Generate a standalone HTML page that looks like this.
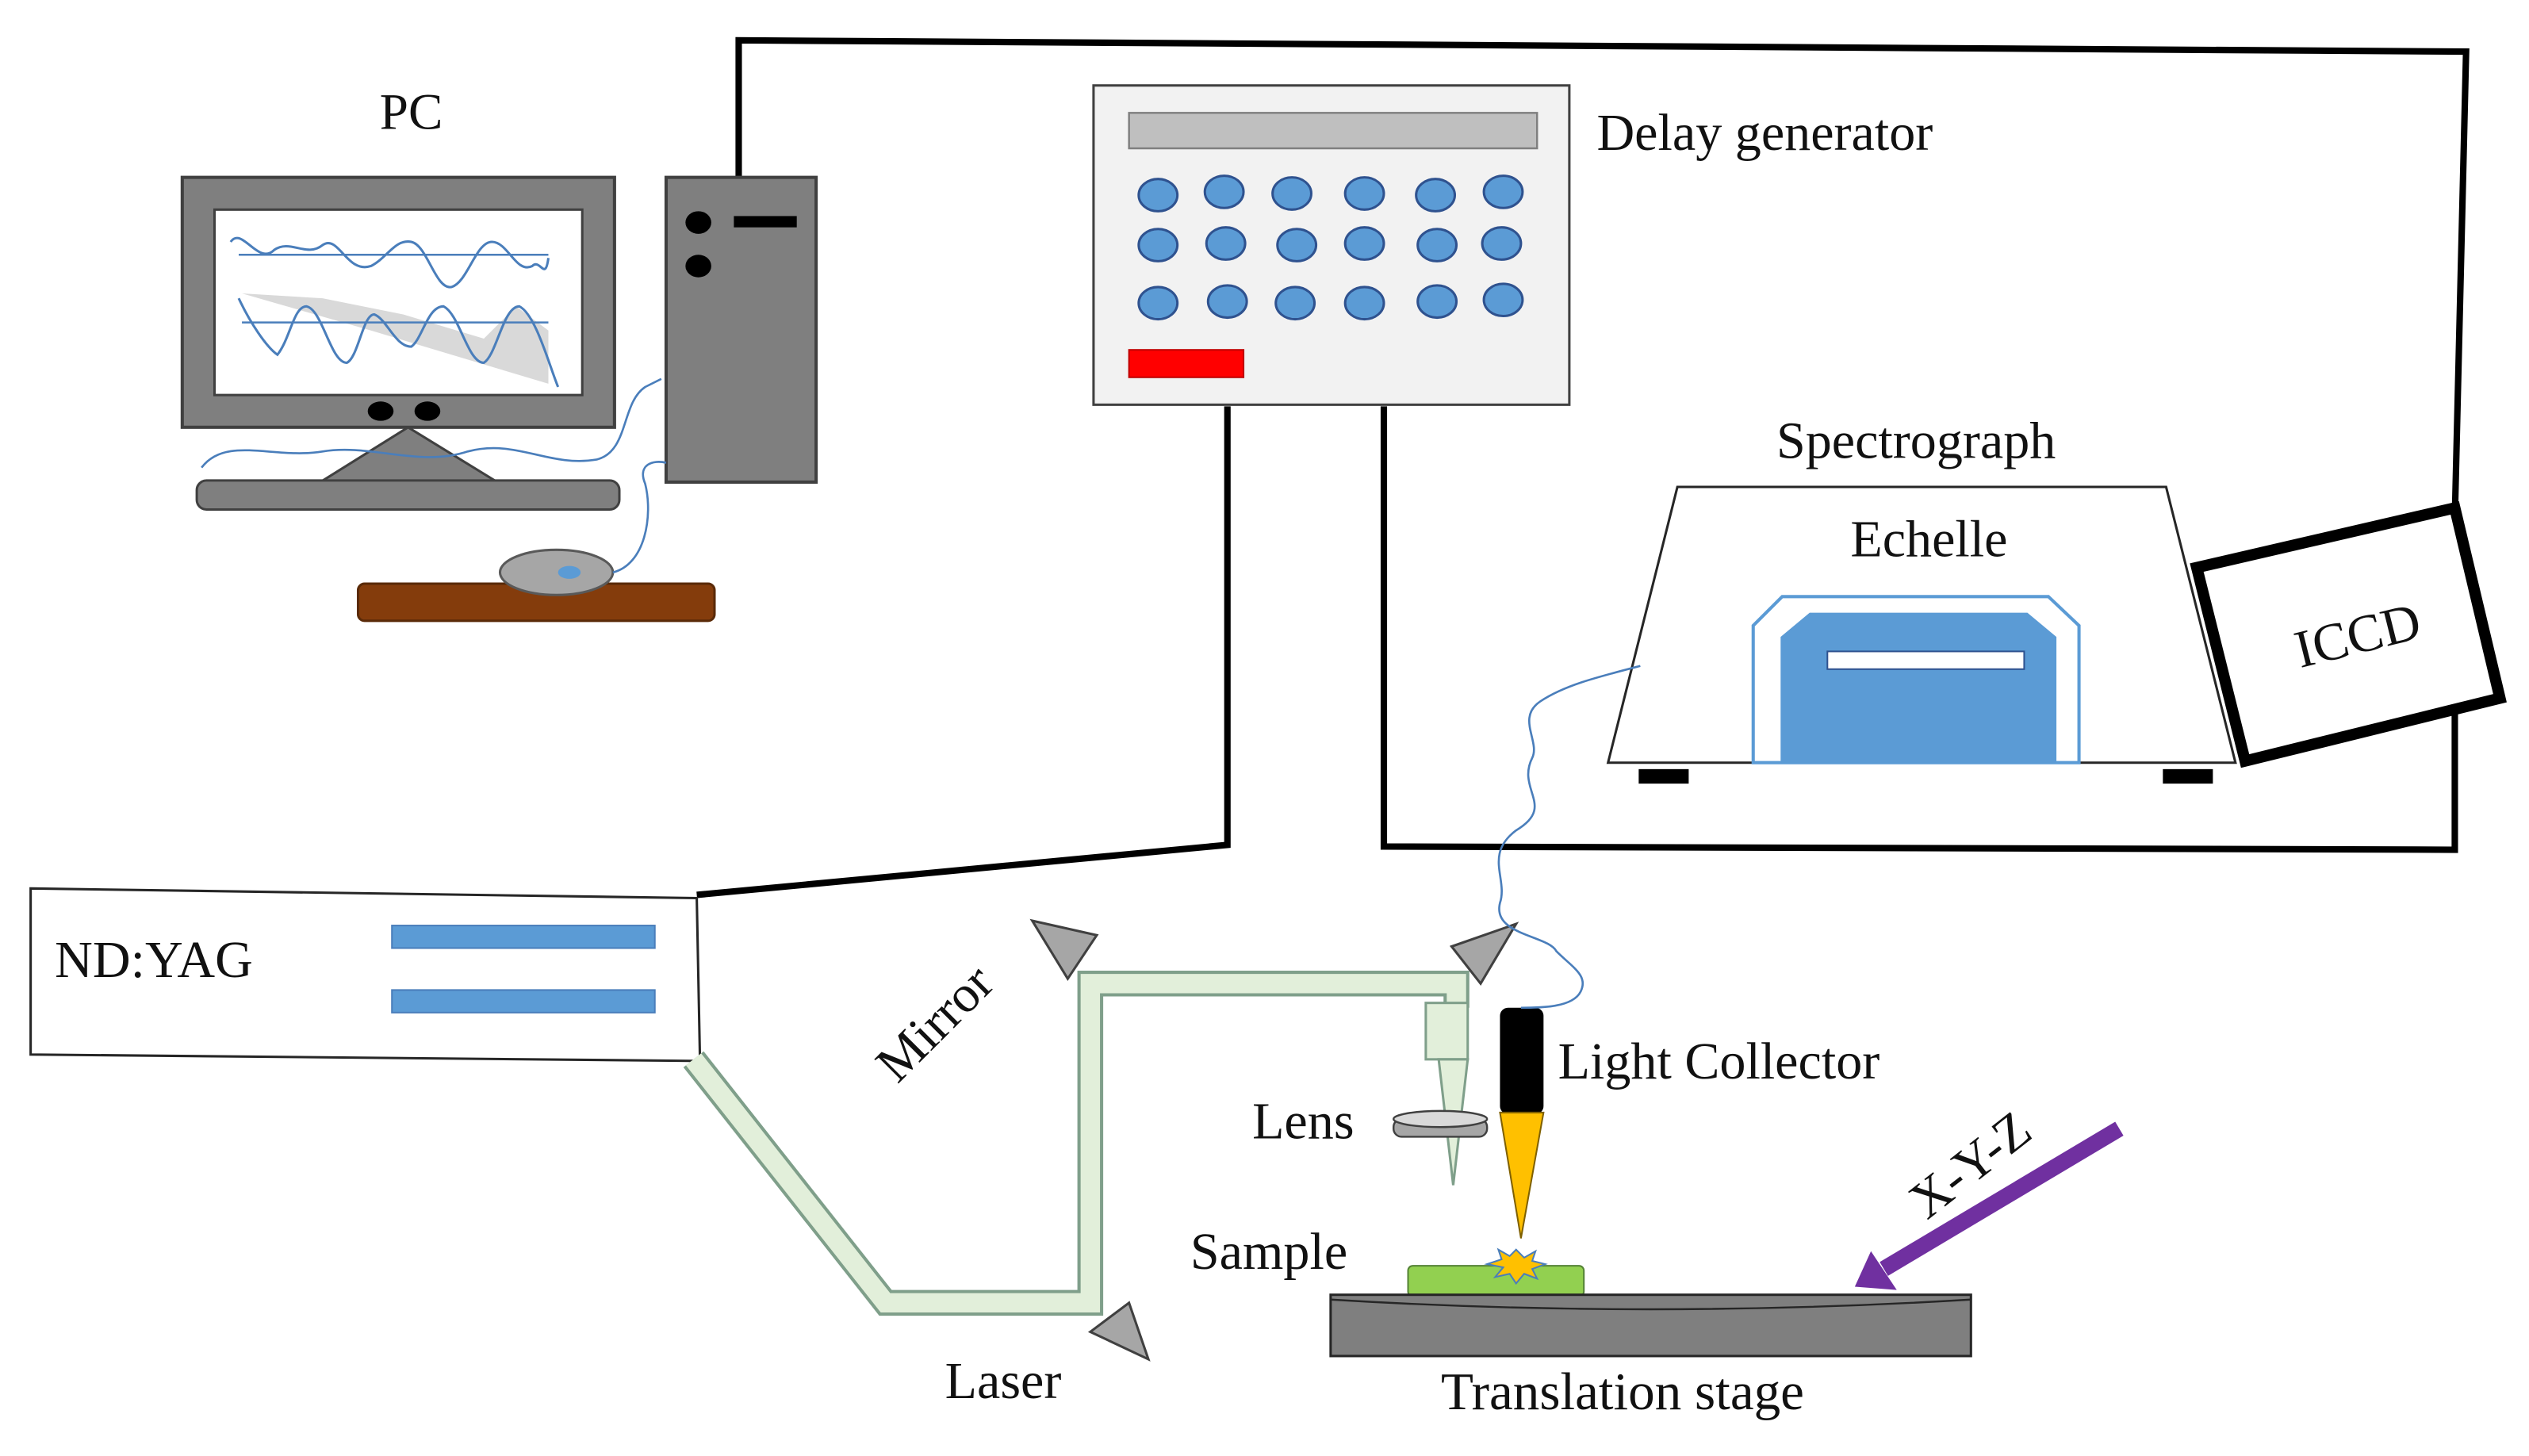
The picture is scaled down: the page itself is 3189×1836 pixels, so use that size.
<!DOCTYPE html>
<html><head><meta charset="utf-8"><style>
html,body{margin:0;padding:0;background:#fff;}
svg{display:block;}
text{font-family:"Liberation Serif",serif;fill:#111;}
</style></head><body>
<svg width="3189" height="1836" viewBox="0 0 1568 903" preserveAspectRatio="none" xmlns="http://www.w3.org/2000/svg">
<rect width="1568" height="903" fill="#fff"/>
<g fill="none" stroke="#000" stroke-width="4">
<polyline points="458,110 458,25 1529,32 1522,322"/>
<polyline points="1522,440 1522,527 858,525 858,252"/>
<polyline points="761,252 761,524 432,555"/>
</g>
<text x="255" y="80" font-size="32" text-anchor="middle">PC</text>
<rect x="113" y="110" width="268" height="155" fill="#7f7f7f" stroke="#404040" stroke-width="2"/>
<rect x="133" y="130" width="228" height="115" fill="#fff" stroke="#404040" stroke-width="1.5"/>
<polygon points="150,182 230,205 340,238 340,205 320,190 300,210 250,195 200,185" fill="#d9d9d9"/>
<path d="M143,150 C150,140 160,165 170,155 C180,148 190,160 200,152 C210,145 215,170 230,165 C240,160 245,148 255,150 C265,152 270,180 280,178 C290,175 295,150 305,150 C315,150 320,170 330,165 C335,160 338,175 340,160" fill="none" stroke="#4a7ebb" stroke-width="1.5"/>
<line x1="148" y1="158" x2="340" y2="158" stroke="#4a7ebb" stroke-width="1.2"/>
<path d="M148,185 C155,200 165,215 172,220 C180,210 182,190 190,190 C200,192 205,225 215,225 C222,222 225,195 232,195 C240,198 245,215 255,215 C262,210 265,190 275,190 C285,195 290,225 300,225 C308,220 312,190 322,190 C332,195 340,225 346,240" fill="none" stroke="#4a7ebb" stroke-width="1.5"/>
<line x1="150" y1="200" x2="340" y2="200" stroke="#4a7ebb" stroke-width="1.2"/>
<ellipse cx="236" cy="255" rx="8" ry="6" fill="#000"/>
<ellipse cx="265" cy="255" rx="8" ry="6" fill="#000"/>
<polygon points="197,300 253,265 310,300" fill="#7f7f7f" stroke="#404040" stroke-width="1.5"/>
<rect x="122" y="298" width="262" height="18" rx="6" fill="#7f7f7f" stroke="#404040" stroke-width="1.5"/>
<rect x="413" y="110" width="93" height="189" fill="#7f7f7f" stroke="#404040" stroke-width="2"/>
<ellipse cx="433" cy="138" rx="8" ry="7" fill="#000"/>
<ellipse cx="433" cy="165" rx="8" ry="7" fill="#000"/>
<rect x="455" y="134" width="39" height="7" fill="#000"/>
<rect x="222" y="362" width="221" height="23" rx="4" fill="#843c0c" stroke="#5a2a08" stroke-width="1.5"/>
<ellipse cx="345" cy="355" rx="35" ry="14" fill="#a6a6a6" stroke="#595959" stroke-width="1.5"/>
<ellipse cx="353" cy="355" rx="7" ry="4" fill="#5b9bd5"/>
<g fill="none" stroke="#4a7ebb" stroke-width="1.3">
<path d="M125,290 C140,270 170,285 200,280 C230,275 260,290 290,280 C320,272 340,290 370,285 C390,280 385,250 400,240 L410,235"/>
<path d="M380,355 C400,350 405,320 400,300 C395,288 405,285 413,287"/>
</g>
<rect x="678" y="53" width="295" height="198" fill="#f2f2f2" stroke="#404040" stroke-width="1.5"/>
<rect x="700" y="70" width="253" height="22" fill="#bfbfbf" stroke="#7f7f7f" stroke-width="1.2"/>
<g fill="#5b9bd5" stroke="#2f528f" stroke-width="1.5">
<ellipse cx="718" cy="121" rx="12" ry="10"/><ellipse cx="759" cy="119" rx="12" ry="10"/><ellipse cx="801" cy="120" rx="12" ry="10"/><ellipse cx="846" cy="120" rx="12" ry="10"/><ellipse cx="890" cy="121" rx="12" ry="10"/><ellipse cx="932" cy="119" rx="12" ry="10"/>
<ellipse cx="718" cy="152" rx="12" ry="10"/><ellipse cx="760" cy="151" rx="12" ry="10"/><ellipse cx="804" cy="152" rx="12" ry="10"/><ellipse cx="846" cy="151" rx="12" ry="10"/><ellipse cx="891" cy="152" rx="12" ry="10"/><ellipse cx="931" cy="151" rx="12" ry="10"/>
<ellipse cx="718" cy="188" rx="12" ry="10"/><ellipse cx="761" cy="187" rx="12" ry="10"/><ellipse cx="803" cy="188" rx="12" ry="10"/><ellipse cx="846" cy="188" rx="12" ry="10"/><ellipse cx="891" cy="187" rx="12" ry="10"/><ellipse cx="932" cy="186" rx="12" ry="10"/>
</g>
<rect x="700" y="217" width="71" height="17" fill="#ff0000" stroke="#c00000" stroke-width="1"/>
<text x="990" y="93" font-size="32.5">Delay generator</text>
<text x="1188" y="284" font-size="32.5" text-anchor="middle">Spectrograph</text>
<polygon points="1040,302 1343,302 1386,473 997,473" fill="#fff" stroke="#262626" stroke-width="1.5"/>
<text x="1196" y="345" font-size="32.5" text-anchor="middle">Echelle</text>
<polygon points="1087,473 1087,388 1105,370 1270,370 1289,388 1289,473" fill="#fff" stroke="#5b9bd5" stroke-width="2"/>
<polygon points="1104,473 1104,395 1122,380 1257,380 1275,395 1275,473" fill="#5b9bd5"/>
<rect x="1133" y="404" width="122" height="11" fill="#fff" stroke="#2f528f" stroke-width="1"/>
<rect x="1016" y="477" width="31" height="9" fill="#000"/>
<rect x="1341" y="477" width="31" height="9" fill="#000"/>
<polygon points="1362,352 1522,315 1550,433 1392,472" fill="#fff" stroke="#000" stroke-width="7"/>
<text x="1462" y="405" font-size="33" text-anchor="middle" transform="rotate(-14 1462 395)">ICCD</text>
<polygon points="19,551 432,557 434,658 19,654" fill="#fff" stroke="#262626" stroke-width="1.5"/>
<text x="34" y="606" font-size="32.5">ND:YAG</text>
<rect x="243" y="574" width="163" height="14" fill="#5b9bd5" stroke="#4a7ebb"/>
<rect x="243" y="614" width="163" height="14" fill="#5b9bd5" stroke="#4a7ebb"/>
<polyline points="430,657 549,808 676,808 676,610 903,610 903,625" fill="none" stroke="#7f9f8a" stroke-width="16" stroke-linejoin="miter"/>
<polyline points="430,657 549,808 676,808 676,610 903,610 903,625" fill="none" stroke="#e2efda" stroke-width="12" stroke-linejoin="miter"/>
<rect x="884" y="622" width="26" height="35" fill="#e2efda" stroke="#7f9f8a" stroke-width="1.5"/>
<polygon points="892,657 910,657 901,735" fill="#e2efda" stroke="#7f9f8a" stroke-width="1.5"/>
<g fill="#a6a6a6" stroke="#404040" stroke-width="1.5">
<polygon points="640,571 680,580 662,607"/>
<polygon points="900,587 940,573 918,610"/>
<polygon points="676,826 700,808 712,843"/>
</g>
<text x="580" y="645" font-size="32.5" text-anchor="middle" transform="rotate(-45 580 635)">Mirror</text>
<text x="622" y="867" font-size="32.5" text-anchor="middle">Laser</text>
<text x="808" y="706" font-size="32.5" text-anchor="middle">Lens</text>
<rect x="864" y="694" width="58" height="11" rx="5" fill="#a6a6a6" stroke="#404040" stroke-width="1.2"/>
<ellipse cx="893" cy="694" rx="29" ry="5" fill="#d9d9d9" stroke="#404040" stroke-width="1.2"/>
<rect x="930" y="625" width="27" height="66" rx="5" fill="#000"/>
<polygon points="930,690 957,690 943,768" fill="#ffc000" stroke="#7f6000" stroke-width="1"/>
<text x="966" y="669" font-size="32.5">Light Collector</text>
<path d="M1017,413 C990,420 970,425 955,435 C940,445 955,460 950,470 C940,490 965,500 940,515 C920,530 935,545 930,560 C925,580 960,580 965,590 C975,600 985,605 980,615 C975,625 955,625 943,625" fill="none" stroke="#4a7ebb" stroke-width="1.3"/>
<text x="738" y="787" font-size="32.5">Sample</text>
<rect x="873" y="785" width="109" height="19" rx="3" fill="#92d050" stroke="#548235" stroke-width="1"/>
<polygon points="940,775 945,780 952,776 950,782 958,784 950,787 953,793 945,790 940,796 936,790 927,792 932,786 922,784 931,781 929,775 936,779" fill="#ffc000" stroke="#4a7ebb" stroke-width="1"/>
<rect x="825" y="803" width="397" height="38" fill="#7f7f7f" stroke="#262626" stroke-width="1.5"/>
<path d="M825,806 Q1023,818 1222,806" fill="none" stroke="#262626" stroke-width="1.2"/>
<text x="1006" y="874" font-size="33" text-anchor="middle">Translation stage</text>
<line x1="1314" y1="700" x2="1168" y2="787" stroke="#7030a0" stroke-width="10"/>
<polygon points="1150,798 1160,776 1176,800" fill="#7030a0"/>
<text x="1222" y="733" font-size="32.5" text-anchor="middle" transform="rotate(-38 1222 723)">X-Y-Z</text>
</svg>
</body></html>
